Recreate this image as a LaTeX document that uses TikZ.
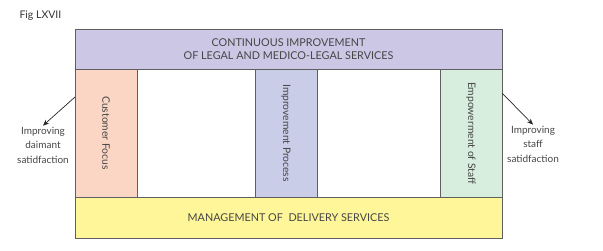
\documentclass[tikz,border=0pt]{standalone}
\usepackage{fontspec}
\setmainfont{Lato}
\usepackage{xcolor}
\usetikzlibrary{
  arrows.meta,
  positioning
}
\definecolor{topband}{RGB}{203,199,229}
\definecolor{custfocus}{RGB}{252,214,197}
\definecolor{improve}{RGB}{201,205,232}
\definecolor{empower}{RGB}{215,237,221}
\definecolor{delivery}{RGB}{255,246,153}
\definecolor{ink}{RGB}{70,70,70}
\definecolor{edge}{RGB}{95,95,95}

\begin{document}
\begin{tikzpicture}[
  x=1pt,y=-1pt,
  font=\fontsize{10.8}{13.5}\selectfont,text=ink,
  band/.style={rectangle,draw=edge,line width=0.8pt,minimum width=427pt,align=center,inner sep=0pt},
  pil/.style={rectangle,draw=edge,line width=0.8pt,rotate=-90,minimum width=128pt,minimum height=62pt,inner sep=0pt,font=\fontsize{10.3}{12}\selectfont},
  lab/.style={align=center,font=\fontsize{10}{14.5}\selectfont,inner sep=1pt},
  a/.style={-{Stealth[length=6pt,width=5pt]},line width=0.7pt,draw=black!85}
]
\useasboundingbox (0,0) rectangle (603,251);
\node[anchor=west,font=\fontsize{10.5}{12}\selectfont,text=black!80] (fig) at (16,16) {Fig LXVII};
\node[band,fill=topband,minimum height=40pt] (top) at (288.5,49) {CONTINUOUS IMPROVEMENT\\OF LEGAL AND MEDICO-LEGAL SERVICES};
\node[band,fill=delivery,minimum height=41pt] (bot) at (288.5,217.5) {MANAGEMENT OF\ \ DELIVERY SERVICES};
\node[pil,fill=custfocus] (cf) at (106,133) {Customer Focus};
\node[pil,fill=improve] (ip) at (286,133) {Improvement Process};
\node[pil,fill=empower] (es) at (471,133) {Empowerment of Staff};
% outcomes on both sides
\node[lab] (lleft) at (43,145) {Improving\\daimant\\satidfaction};
\node[lab] (lright) at (533,144) {Improving\\staff\\satidfaction};
\coordinate (la) at (75,97);
\coordinate (ra) at (502,93);
\draw[a] (la)--(lleft.north);
\draw[a] (ra)--(lright.north);
\end{tikzpicture}
\end{document}
